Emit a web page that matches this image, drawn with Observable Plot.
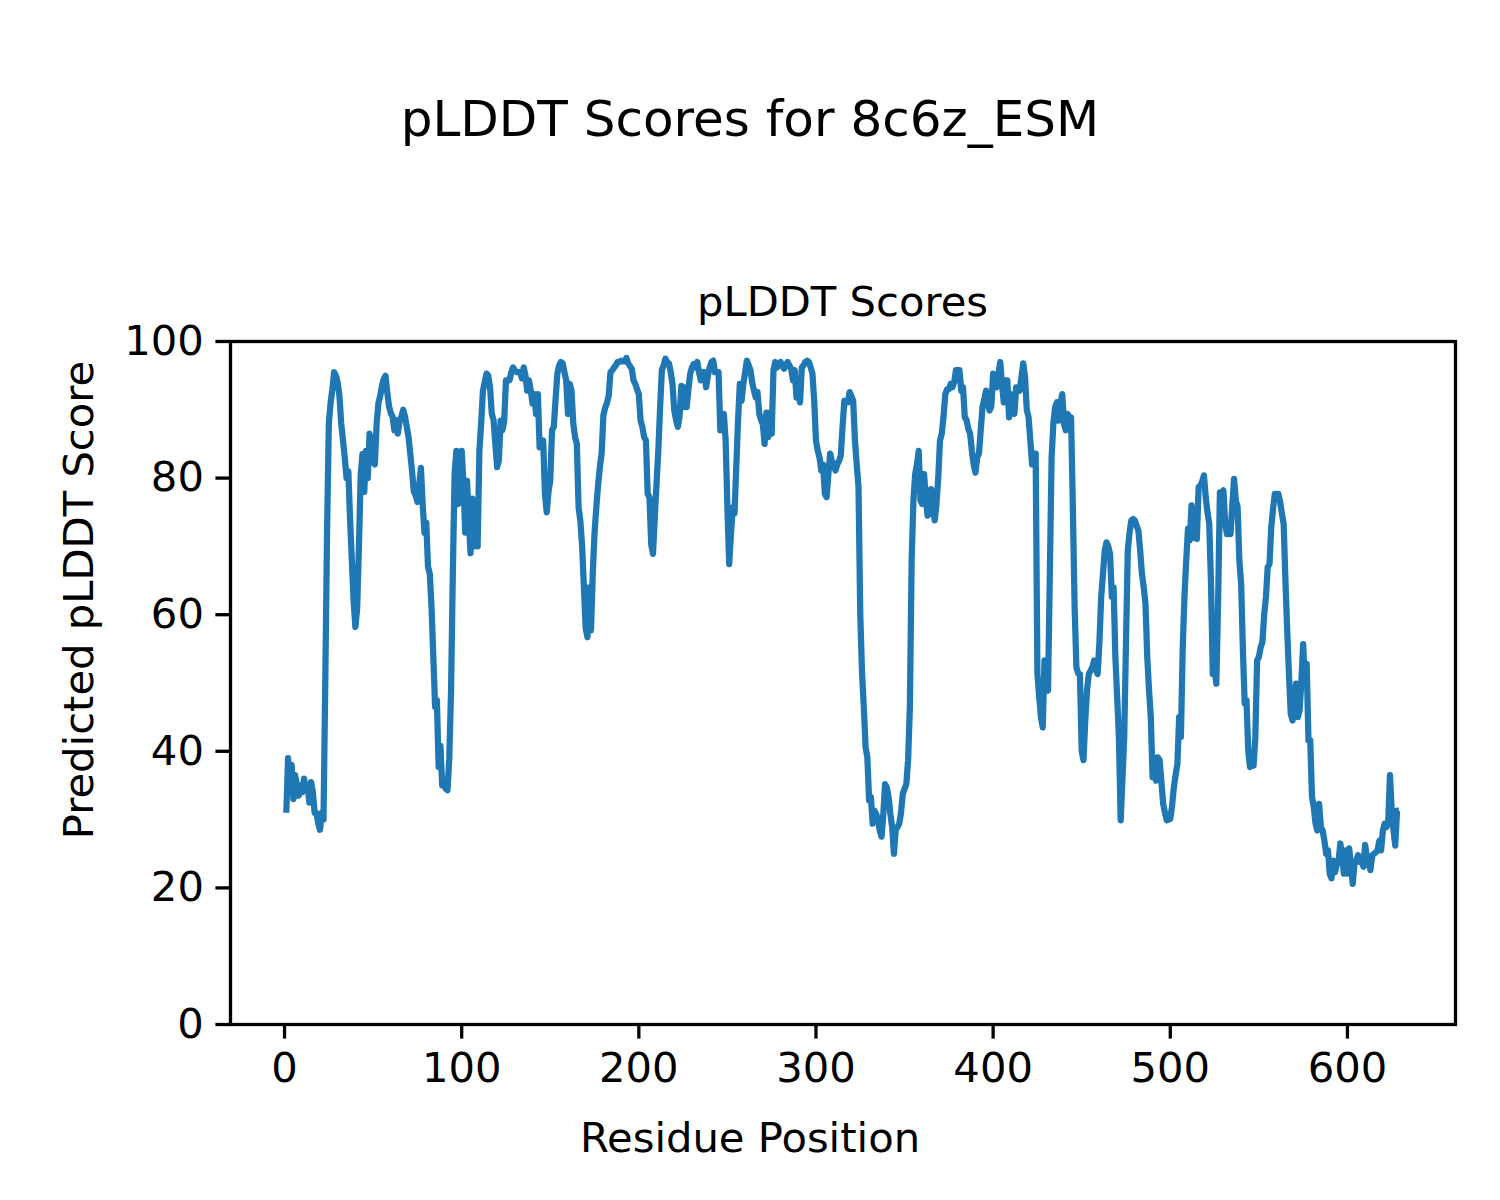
<!DOCTYPE html>
<html><head><meta charset="utf-8">
<script src="https://cdn.jsdelivr.net/npm/d3@7"></script>
<script src="https://cdn.jsdelivr.net/npm/@observablehq/plot@0.6"></script>
<style>body{margin:0;background:#fff;} svg{display:block}</style>
</head><body><div id="chart"></div>
<script>
const scores = [
31, 39, 35, 38, 33, 36.5, 35, 33.5, 35, 34,
36, 34.5, 35, 32.5, 35.5, 34, 31, 31, 29.5, 28.5,
31, 30, 50, 72, 88, 91, 93, 95.5, 95, 94,
92, 88, 85.5, 83, 80, 81, 74, 68, 62, 58.2,
61, 70, 80.5, 83.5, 78, 84, 80, 86.5, 85, 82.5,
82, 88, 91, 92, 93.5, 94.5, 95, 92.5, 90.5, 89.5,
89, 87, 88.5, 86.5, 88.5, 89, 90, 89, 87.5, 86,
83.5, 81, 78, 77.5, 76.5, 79, 81.5, 76, 72, 73.5,
67, 66, 61, 53.8, 46.5, 47.5, 37.7, 40.8, 35, 35,
34.5, 34.3, 39, 48.9, 66, 80.6, 84, 76.2, 76.7, 84,
79.2, 72, 79.6, 74, 69, 77, 70, 72, 70, 84,
88, 92.8, 94, 95.3, 95, 93.3, 89.4, 88.5, 85, 81.6,
82.6, 88.4, 87, 88.4, 94.3, 94.3, 94.3, 95.5, 96.2, 95.8,
95.5, 95.5, 95.5, 94.6, 96.2, 95, 92.8, 94.3, 92.8, 90.9,
92.3, 89.4, 92.3, 84.5, 85, 85.5, 77.7, 75, 78, 79.6,
87, 87.5, 91.5, 95.3, 96.5, 97, 96.8, 95.5, 94.3, 89.4,
93.8, 92.8, 88, 86, 85, 75.7, 73.7, 70, 64, 58,
56.7, 64, 57.7, 66, 72, 75.7, 79, 81.6, 83.6, 89.2,
90.3, 91, 92.1, 95.5, 95.8, 96.2, 96.5, 97, 97, 97.2,
97.1, 97.1, 97.6, 96.8, 96.4, 96, 94.3, 93.8, 93, 92.3,
88.4, 87.5, 86, 85.5, 77.7, 77.2, 70.3, 68.9, 74.2, 79.2,
84, 90.3, 95.8, 96.5, 97.5, 97, 96.8, 95.5, 93.8, 89.9,
88.5, 87.5, 89, 93.5, 90.4, 93.3, 90.4, 93, 95.3, 96.2,
96.7, 96.2, 97, 95.5, 94.3, 95.5, 95.5, 93.3, 95, 96.2,
97, 97.2, 95.5, 95.5, 95.5, 87, 88, 89.4, 85.5, 75.7,
67.4, 71.8, 75.7, 74.8, 81.6, 88.4, 93.8, 91.3, 93.8, 95.5,
97.2, 96.5, 95.8, 94, 92.8, 91.8, 92.6, 89.4, 88.5, 87.9,
85, 89.6, 86, 89.6, 86.5, 95.8, 97, 96.2, 96.5, 97,
96.5, 96, 96.5, 97, 96.5, 96, 94.3, 95.8, 91.8, 93.3,
91.1, 96.2, 96.5, 97, 97.2, 97, 96.2, 95.3, 91.3, 85.5,
84, 83, 81.1, 82, 77.7, 77.2, 80.6, 83.6, 82.5, 82,
81.1, 82, 82.5, 83.3, 87.5, 91.3, 91.2, 91.1, 92.6, 92,
91.3, 85.5, 82, 78.7, 60, 51.4, 46.5, 40.6, 39.1, 32.8,
33.3, 29.4, 31.3, 30.8, 30, 28.4, 27.5, 30.8, 35.2, 34.7,
33.3, 30.8, 28.9, 25, 28.5, 28.9, 29.4, 31, 33.8, 34.5,
35.2, 38.7, 46.5, 68, 76.7, 80.6, 82, 84, 76.7, 76.2,
80.6, 77, 74.5, 74.8, 78.4, 76, 73.8, 76.2, 80, 85.5,
86.5, 89, 92.3, 93, 93, 93.8, 93.3, 94, 95.8, 95.8,
95.8, 92.8, 93.3, 88.9, 88.5, 87.2, 86.5, 84, 82, 80.8,
83, 83.6, 87, 90.4, 91.5, 92.8, 91, 89.9, 90.5, 95.3,
94, 93.3, 95.3, 97, 93.8, 91.1, 94.3, 94.3, 88.9, 92.3,
91, 89.4, 93.3, 93, 92.8, 94.8, 96.8, 94.8, 90, 88.9,
85.5, 82, 83.6, 83.6, 51.3, 48, 45, 43.5, 53.3, 49.5,
48.9, 66, 83, 88, 90.4, 91.1, 88.4, 90.9, 92.3, 87.9,
87, 89.4, 89, 88.9, 75.7, 61.1, 52.3, 51.4, 51.3, 40,
38.7, 44.5, 48.9, 51.3, 51.8, 52.3, 53.3, 52, 51.3, 56,
62.6, 66, 69.4, 70.6, 70, 68.9, 62.6, 64, 53.8, 48,
42.1, 29.9, 36, 42.1, 56, 69.4, 72, 73.8, 74, 73.8,
73, 72.3, 69.4, 66, 64, 61.6, 53.8, 49, 45, 36.2,
39.1, 35.7, 39.1, 38.7, 35.5, 32.3, 31, 29.9, 30, 30.1,
32, 34.7, 36.5, 38.1, 45, 42.1, 55, 62.6, 68, 72.6,
70.9, 76, 71.3, 75.5, 71.1, 78.7, 78.9, 79.5, 80.4, 77.2,
75, 73.3, 64.5, 51.3, 52.3, 49.9, 62, 77.9, 77.9, 78.2,
73.3, 71.8, 73.3, 71.8, 76, 79.9, 76.7, 75.8, 67.9, 64.5,
54.8, 47, 47.5, 40.1, 37.7, 37.9, 37.9, 42, 53.3, 53.8,
55.2, 56, 60, 62.6, 67, 67.4, 72.8, 75.5, 77.7, 77.7,
77.7, 76.5, 74.8, 73.3, 65, 57.7, 51.3, 45.5, 44.5, 47,
49.9, 45, 46, 50.3, 55.7, 49.9, 52.8, 41.6, 41.6, 33.3,
31.8, 29.4, 28.4, 32.3, 28.9, 28.4, 26.9, 25, 25.5, 22.1,
21.4, 24, 22.3, 23.5, 24, 26.5, 24.5, 22.1, 25.5, 22.1,
25.8, 23, 20.6, 23.6, 24, 24.8, 23.8, 24, 23.1, 26.3,
24.5, 23.5, 22.6, 24.8, 25, 25.2, 25.5, 26.9, 25.5, 28.4,
29.4, 28.9, 29.5, 36.5, 31.3, 28.4, 26.2, 31.3, 31.3
];
const positions = scores.map((_, i) => i + 1);
const xTicks = [0, 100, 200, 300, 400, 500, 600];
const yTicks = [0, 20, 40, 60, 80, 100];
const xDomain = [-30.5, 661];
const yDomain = [0, 100];
const figTitle = "pLDDT Scores for 8c6z_ESM";
const axTitle = "pLDDT Scores";
const xLabel = "Residue Position";
const yLabel = "Predicted pLDDT Score";

const data = positions.map((p, i) => ({pos: p, score: scores[i]}));

const W = 1500, H = 1200;
const mL = 230, mR = 45, mT = 341, mB = 176;

const plot = Plot.plot({
  width: W, height: H,
  marginLeft: mL, marginRight: mR, marginTop: mT, marginBottom: mB,
  style: {fontFamily: "DejaVu Sans", fontSize: "41.7px", color: "black", background: "white", overflow: "visible"},
  x: {domain: xDomain},
  y: {domain: yDomain},
  marks: [
    Plot.line(data, {x: "pos", y: "score", stroke: "#1f77b4", strokeWidth: 6.25, strokeLinejoin: "round", strokeLinecap: "butt"}),
    Plot.frame({stroke: "black", strokeWidth: 3.3}),
    Plot.axisX({ticks: xTicks, tickSize: 14.6, tickPadding: 13, strokeWidth: 3.3, label: null, fill: "black", stroke: "black"}),
    Plot.axisY({ticks: yTicks, tickSize: 14.6, tickPadding: 12, strokeWidth: 3.3, label: null, fill: "black", stroke: "black"})
  ]
});
document.getElementById("chart").appendChild(plot);

const svg = d3.select(plot);
const cx = mL + (W - mL - mR) / 2;
function addText(txt, x, y, size, rotate) {
  const t = svg.append("text")
    .attr("text-anchor", "middle")
    .attr("font-family", "DejaVu Sans")
    .attr("font-size", size)
    .attr("fill", "black")
    .text(txt);
  if (rotate) t.attr("transform", `translate(${x},${y}) rotate(-90)`);
  else t.attr("x", x).attr("y", y);
}
addText(figTitle, W / 2, 136, 50);
addText(axTitle, cx, 316, 41.7);
addText(xLabel, W / 2, 1152, 41.7);
addText(yLabel, 93, H / 2, 41.7, true);
</script>
</body></html>
